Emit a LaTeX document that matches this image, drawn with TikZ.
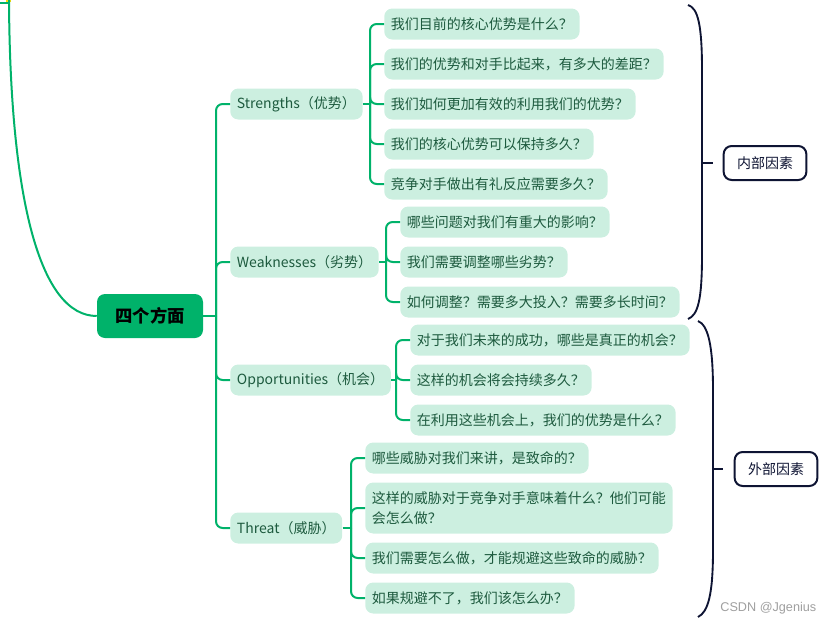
\documentclass[tikz,border=0pt]{standalone}
\usepackage{fontspec}
\setmainfont{Noto Sans CJK SC}
\newfontfamily\markfont{Liberation Sans}
\usepackage{xcolor}
\usetikzlibrary{positioning,calc}

\definecolor{mapgreen}{HTML}{00B26A}
\definecolor{topicfill}{HTML}{CCEFE0}
\definecolor{topictext}{HTML}{1D5A3E}
\definecolor{bracenavy}{HTML}{0E1433}

\begin{document}
\begin{tikzpicture}[
    x=0.75pt, y=-0.75pt,
    rootbox/.style={rectangle, fill=mapgreen, rounded corners=6pt, minimum width=79.5pt, minimum height=33pt, font=\fontsize{13}{15}\selectfont\bfseries, text=black},
    topic/.style={rectangle, fill=topicfill, rounded corners=6pt, minimum height=23.25pt, inner xsep=5pt, font=\fontsize{10.5}{15}\selectfont, text=topictext, anchor=west, align=left},
    factor/.style={rectangle, draw=bracenavy, line width=1.5pt, fill=white, rounded corners=6pt, minimum width=62pt, minimum height=25.5pt, font=\fontsize{10.5}{13}\selectfont, text=bracenavy},
    link/.style={draw=mapgreen, line width=1.5pt},
    branch/.style={link, rounded corners=5pt},
    brace/.style={draw=bracenavy, line width=1.4pt}
]
    \useasboundingbox (0,0) rectangle (836,625);

    % root and the cut-off parent at top left
    \node [rootbox] (root) at (150,316) {四个方面};
    \fill [yellow!80!orange] (6,0) rectangle (11,2);
    \draw [link] (0,3) -- (9,3);
    \draw [link] (9,0) .. controls (10,200) and (40,316) .. (root.west);

    % four aspects
    \node [topic] (str) at (230,104) {Strengths（优势）};
    \node [topic] (weak) at (230,262) {Weaknesses（劣势）};
    \node [topic] (opp) at (230,380) {Opportunities（机会）};
    \node [topic] (thr) at (230,528) {Threat（威胁）};

    \coordinate (rj) at (216,316);
    \draw [link] (root.east) -- (rj);
    \foreach \t in {str,weak,opp,thr}
        \draw [branch] (rj) |- (\t.west);

    % strengths
    \node [topic] (s1) at (384,24) {我们目前的核心优势是什么？};
    \node [topic] (s2) at (384,64) {我们的优势和对手比起来，有多大的差距？};
    \node [topic] (s3) at (384,104) {我们如何更加有效的利用我们的优势？};
    \node [topic] (s4) at (384,144) {我们的核心优势可以保持多久？};
    \node [topic] (s5) at (384,184) {竞争对手做出有礼反应需要多久？};
    \coordinate (sj) at (370,104);
    \draw [link] (str.east) -- (sj);
    \foreach \c in {s1,s2,s3,s4,s5}
        \draw [branch] (sj) |- (\c.west);

    % weaknesses
    \node [topic] (w1) at (400,222) {哪些问题对我们有重大的影响？};
    \node [topic] (w2) at (400,262) {我们需要调整哪些劣势？};
    \node [topic] (w3) at (400,302) {如何调整？需要多大投入？需要多长时间？};
    \coordinate (wj) at (386,262);
    \draw [link] (weak.east) -- (wj);
    \foreach \c in {w1,w2,w3}
        \draw [branch] (wj) |- (\c.west);

    % opportunities
    \node [topic] (o1) at (410,340) {对于我们未来的成功，哪些是真正的机会？};
    \node [topic] (o2) at (410,380) {这样的机会将会持续多久？};
    \node [topic] (o3) at (410,420) {在利用这些机会上，我们的优势是什么？};
    \coordinate (oj) at (396,380);
    \draw [link] (opp.east) -- (oj);
    \foreach \c in {o1,o2,o3}
        \draw [branch] (oj) |- (\c.west);

    % threats
    \node [topic] (t1) at (365,458) {哪些威胁对我们来讲，是致命的？};
    \node [topic, minimum height=38.25pt] (t2) at (365,508) {这样的威胁对于竞争对手意味着什么？他们可能\\会怎么做？};
    \node [topic] (t3) at (365,558) {我们需要怎么做，才能规避这些致命的威胁？};
    \node [topic] (t4) at (365,598) {如果规避不了，我们该怎么办？};
    \coordinate (tj) at (351,528);
    \draw [link] (thr.east) -- (tj);
    \foreach \c in {t1,t2,t3,t4}
        \draw [branch] (tj) |- (\c.west);

    % braces and factors
    \node [factor] (inner) at (765,163) {内部因素};
    \node [factor] (outer) at (776,469) {外部因素};

    \draw [brace] (688,5) .. controls (698,8) and (702,25) .. (702,70)
        -- (702,255) .. controls (702,300) and (698,315) .. (688,319);
    \draw [brace] (702,163) -- (713,163);
    \draw [brace] (698,321) .. controls (708,325) and (713,345) .. (713,390)
        -- (713,550) .. controls (713,595) and (708,612) .. (698,617);
    \draw [brace] (713,469) -- (723,469);

    \node [text=gray!75, font=\markfont\fontsize{9.5}{11}\selectfont, anchor=east] (mark) at (821,608) {CSDN @Jgenius};
\end{tikzpicture}
\end{document}
